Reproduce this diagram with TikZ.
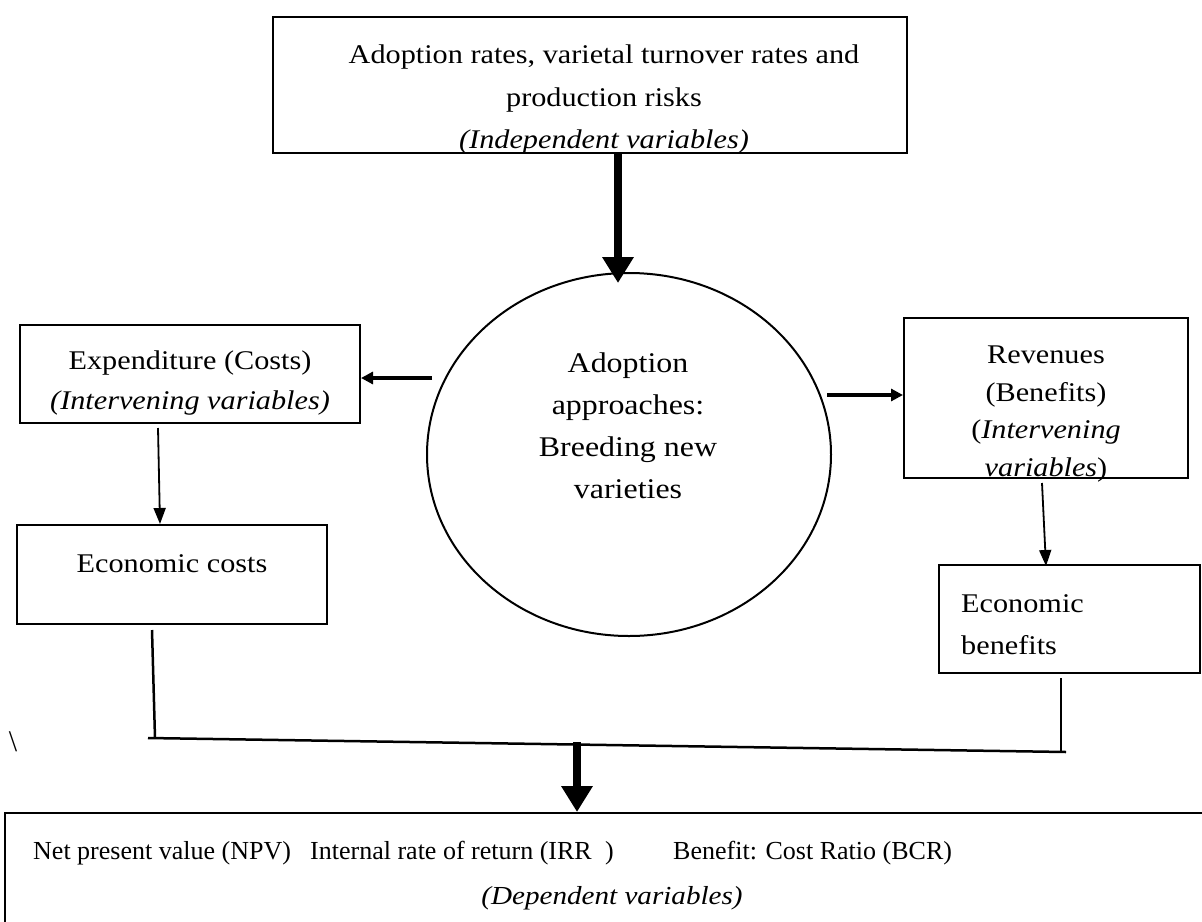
\documentclass[tikz,border=0pt]{standalone}
\usepackage{fontspec}
\setmainfont{Liberation Serif}[FakeStretch=1.12]
\newfontfamily\plainserif{Liberation Serif}
\usetikzlibrary{arrows.meta,shapes.geometric}
\begin{document}
\begin{tikzpicture}[x=1pt,y=-1pt,
  box/.style={draw,line width=2pt,inner sep=0pt},
  txt/.style={align=center,inner sep=0pt,font=\fontsize{27}{#1}\selectfont},
  bottxt/.style={inner sep=0pt,anchor=west,font=\plainserif\fontsize{26}{28}\selectfont},
  thinarrow/.style={line width=1.8pt,-{Triangle[length=16pt,width=12pt]}},
  midarrow/.style={line width=3.5pt,-{Triangle[length=12pt,width=12pt]}},
  bigarrow/.style={line width=8pt,-{Triangle[length=26pt,width=30pt]}},
  joinline/.style={line width=2.5pt}]
\useasboundingbox (0,0) rectangle (1202,921);
\fill[white] (0,0) rectangle (1202,921);
% boxes
\node[box,minimum width=634pt,minimum height=136pt] (top) at (590,85) {};
\node[box,minimum width=340pt,minimum height=98pt] (exp) at (190,374) {};
\node[box,minimum width=310pt,minimum height=99pt] (ec) at (172,574.5) {};
\node[box,minimum width=284pt,minimum height=160pt] (rev) at (1046,398) {};
\node[box,minimum width=261pt,minimum height=108pt] (eb) at (1069.5,619) {};
\node[box,minimum width=1205pt,minimum height=117pt] (dep) at (607.5,871.5) {};
\node[draw,line width=2pt,ellipse,minimum width=404pt,minimum height=363pt,inner sep=0pt] (circ) at (629,454.5) {};
% texts
\node[txt=42.5] (toptxt) at (604,100) {Adoption rates, varietal turnover rates and\\production risks\\\textit{(Independent variables)}};
\node[txt=40] (exptxt) at (190,383) {Expenditure (Costs)\\\textit{(Intervening variables)}};
\node[txt=40] (ectxt) at (172,564) {Economic costs};
\node[txt=42,font=\fontsize{28.5}{42}\selectfont] (circtxt) at (628,426) {Adoption\\approaches:\\Breeding new\\varieties};
\node[txt=37.5] (revtxt) at (1046,414) {Revenues\\(Benefits)\\(\textit{Intervening}\\\textit{variables})};
\node[txt=42,align=left,anchor=west] (ebtxt) at (961,625) {Economic\\benefits};
\node[bottxt] (npv) at (33,853) {Net present value (NPV)};
\node[bottxt] (irr) at (310,853) {Internal rate of return (IRR};
\node[bottxt] (irrp) at (605,853) {)};
\node[bottxt] (bcr) at (673,853) {Benefit: Cost Ratio (BCR)};
\node[inner sep=0pt,font=\fontsize{26}{28}\selectfont\itshape] (deplab) at (612,898) {(Dependent variables)};
\node[inner sep=0pt,font=\plainserif\fontsize{30}{32}\selectfont] (bs) at (13,742) {\textbackslash};
% coordinates
\coordinate (a1) at (618,0);
\coordinate (a1e) at (618,283);
\coordinate (l1) at (432,378);
\coordinate (r1) at (827,395);
\coordinate (d1s) at (158,428);
\coordinate (d1e) at (160,524);
\coordinate (d2s) at (1042,483);
\coordinate (d2e) at (1046,566);
\coordinate (v1s) at (152,630);
\coordinate (jl) at (155,738);
\coordinate (jl0) at (148,738);
\coordinate (v2s) at (1061,678);
\coordinate (jr) at (1061,752);
\coordinate (jr0) at (1066,752);
\coordinate (jm) at (577,742);
% connectors
\draw[bigarrow] (a1 |- top.south) -- (a1e);
\draw[midarrow] (l1) -- (exp.east |- l1);
\draw[midarrow] (r1) -- (rev.west |- r1);
\draw[thinarrow] (d1s) -- (d1e);
\draw[thinarrow] (d2s) -- (d2e);
\draw[joinline] (v1s) -- (jl);
\draw[joinline] (v2s) -- (jr);
\draw[joinline] (jl0) -- (jr0);
\draw[bigarrow] (jm) -- (jm |- dep.north);
\end{tikzpicture}
\end{document}
